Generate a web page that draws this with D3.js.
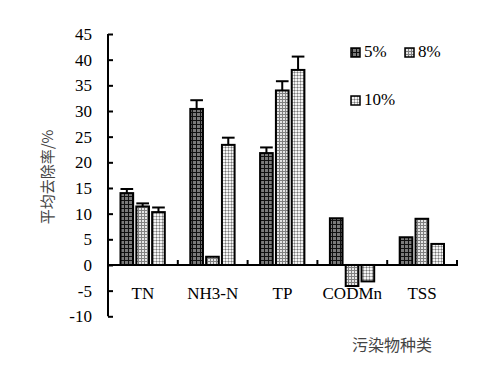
<!DOCTYPE html>
<html>
<head>
<meta charset="utf-8">
<script src="https://cdn.jsdelivr.net/npm/d3@7"></script>
<style>
	body { margin: 0; background: #fff; }
	svg text { font-family: "Liberation Serif", "Times New Roman", serif; }
</style>
</head>
<body>
<svg id="chart" width="501" height="376"></svg>
<script>
// categories and series
var categories = ['TN', 'NH3-N', 'TP', 'CODMn', 'TSS'];
var seriesNames = ['5%', '8%', '10%'];
var values5 = [14.0, 30.4, 21.8, 9.1, 5.4];
var values8 = [11.4, 1.6, 34.0, -4.1, 9.0];
var values10 = [10.3, 23.4, 38.0, -3.2, 4.1];
var err5 = [0.8, 1.7, 1.1, 0, 0];
var err8 = [0.6, 0, 1.8, 0, 0];
var err10 = [0.9, 1.4, 2.6, 0, 0];
var yTicks = [-10, -5, 0, 5, 10, 15, 20, 25, 30, 35, 40, 45];

var series = [values5, values8, values10];
var errs = [err5, err8, err10];

var svg = d3.select('#chart');
var defs = svg.append('defs');

//Patterns for the three fills
var p1 = defs.append('pattern').attr('id', 'pat0')
	.attr('patternUnits', 'userSpaceOnUse').attr('width', 4).attr('height', 4);
p1.append('rect').attr('width', 4).attr('height', 4).attr('fill', '#7a7a7a');
p1.append('rect').attr('width', 4).attr('height', 1).attr('fill', '#111');
p1.append('rect').attr('width', 1).attr('height', 4).attr('fill', '#111');

var p2 = defs.append('pattern').attr('id', 'pat1')
	.attr('patternUnits', 'userSpaceOnUse').attr('width', 3).attr('height', 3);
p2.append('rect').attr('width', 3).attr('height', 3).attr('fill', '#e6e6e6');
p2.append('rect').attr('width', 3).attr('height', 1).attr('fill', '#808080');
p2.append('rect').attr('width', 1).attr('height', 3).attr('fill', '#808080');

var p3 = defs.append('pattern').attr('id', 'pat2')
	.attr('patternUnits', 'userSpaceOnUse').attr('width', 3).attr('height', 3);
p3.append('rect').attr('width', 3).attr('height', 3).attr('fill', '#f4f4f4');
p3.append('rect').attr('width', 3).attr('height', 1).attr('fill', '#b0b0b0');
p3.append('rect').attr('width', 1).attr('height', 3).attr('fill', '#b0b0b0');
p3.append('rect').attr('width', 1).attr('height', 1).attr('fill', '#777');

var x0 = 108, x1 = 457;
var y = d3.scaleLinear().domain([-10, 45]).range([316.3, 34]);
var xBand = d3.scaleBand().domain(categories).range([x0, x1]);
var inner = d3.scaleBand().domain(d3.range(3)).range([12.5, xBand.bandwidth() - 13]).paddingInner(0.2);

//Bars
for (var s = 0; s < 3; s++) {
	var g = svg.append('g');
	g.selectAll('rect').data(series[s]).enter().append('rect')
		.attr('x', function (d, i) { return xBand(categories[i]) + inner(s); })
		.attr('y', function (d) { return Math.min(y(d), y(0)); })
		.attr('width', inner.bandwidth())
		.attr('height', function (d) { return Math.abs(y(d) - y(0)); })
		.attr('fill', 'url(#pat' + s + ')')
		.attr('stroke', '#000')
		.attr('stroke-width', 2);

	//error bars
	for (var i = 0; i < categories.length; i++) {
		var e = errs[s][i];
		if (!e) continue;
		var cx = xBand(categories[i]) + inner(s) + inner.bandwidth() / 2;
		var errTop = series[s][i] + e;
		g.append('line').attr('x1', cx).attr('x2', cx)
			.attr('y1', y(series[s][i])).attr('y2', y(errTop))
			.attr('stroke', '#000').attr('stroke-width', 2);
		g.append('line')
			.attr('x1', cx - inner.bandwidth() / 2).attr('x2', cx + inner.bandwidth() / 2)
			.attr('y1', y(errTop)).attr('y2', y(errTop))
			.attr('stroke', '#000').attr('stroke-width', 2);
	}
}

//Y axis
var yAxis = d3.axisRight(y).tickValues(yTicks).tickSize(5).tickFormat('');
var ya = svg.append('g').attr('transform', 'translate(' + x0 + ',0)').call(yAxis);
ya.select('.domain').attr('stroke-width', 2).attr('d', 'M0,' + y(-10) + 'V' + y(45));
ya.selectAll('.tick line').attr('stroke-width', 2);
svg.append('g').selectAll('text').data(yTicks).enter().append('text')
	.attr('x', 92).attr('y', function (d) { return y(d) + 6; })
	.attr('text-anchor', 'end').attr('font-size', 17).attr('fill', '#000')
	.text(function (d) { return d; });

//X axis at zero
var boundaries = categories.map(function (c) { return xBand(c) + xBand.bandwidth(); });
svg.append('line').attr('x1', x0).attr('x2', x1 + 1)
	.attr('y1', y(0)).attr('y2', y(0)).attr('stroke', '#000').attr('stroke-width', 2);
svg.selectAll('.xtick').data(boundaries).enter().append('line')
	.attr('x1', function (d) { return d; }).attr('x2', function (d) { return d; })
	.attr('y1', y(0)).attr('y2', y(0) - 5)
	.attr('stroke', '#000').attr('stroke-width', 2);
svg.selectAll('.xlab').data(categories).enter().append('text')
	.attr('x', function (d) { return xBand(d) + xBand.bandwidth() / 2; })
	.attr('y', 299).attr('text-anchor', 'middle').attr('font-size', 17)
	.text(function (d) { return d; });

//Axis titles
svg.append('text')
	.attr('transform', 'translate(53,177) rotate(-90)')
	.attr('text-anchor', 'middle').attr('font-size', 15).attr('fill', '#444')
	.style('font-family', '"Noto Sans CJK SC", sans-serif')
	.text('平均去除率/%');
svg.append('text')
	.attr('x', 392).attr('y', 351).attr('text-anchor', 'middle')
	.attr('font-size', 16).attr('fill', '#444')
	.style('font-family', '"Noto Sans CJK SC", sans-serif')
	.text('污染物种类');

//Legend
var legendPos = [[355, 52], [409, 52], [355, 100]];
var leg = svg.append('g');
seriesNames.forEach(function (name, i) {
	var p = legendPos[i];
	leg.append('rect').attr('x', p[0] - 4).attr('y', p[1] - 4).attr('width', 9).attr('height', 9)
		.attr('fill', 'url(#pat' + i + ')').attr('stroke', '#000').attr('stroke-width', 1.5);
	leg.append('text').attr('x', p[0] + 9).attr('y', p[1] + 5)
		.attr('font-size', 17).text(name);
});
</script>
</body>
</html>
